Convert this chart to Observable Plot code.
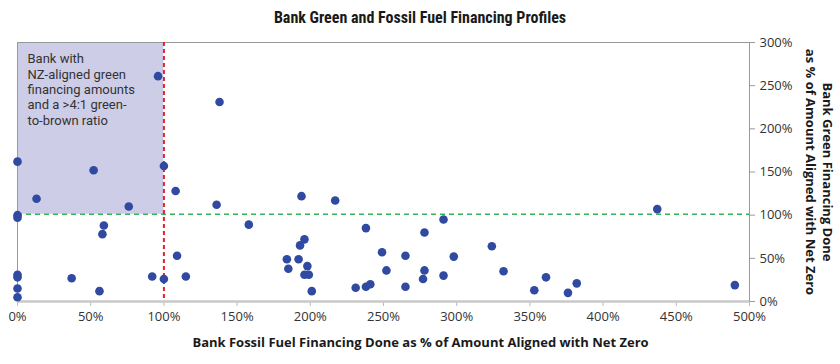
<!DOCTYPE html>
<html>
<head>
<meta charset="utf-8">
<script src="https://cdn.jsdelivr.net/npm/d3@7"></script>
<script src="https://cdn.jsdelivr.net/npm/@observablehq/plot@0.6"></script>
<style>
  body { margin: 0; background: #fff; }
  #title { height: 32px; line-height: 36px; text-align: center; font-family: "Liberation Sans Narrow", "Roboto Condensed", Roboto, sans-serif; font-weight: bold; font-size: 16px; color: #1a1a1a; }
  svg { display: block; }
</style>
</head>
<body>
<div id="title">Bank Green and Fossil Fuel Financing Profiles</div>
<div id="chart"></div>
<script>
// Fossil fuel financing as % of NZ-aligned amount (x), green financing as % of NZ-aligned amount (y)
const fossilPct = [96, 138, 0, 52, 100, 108, 13, 76, 136, 0, 0, 59, 58, 158, 109, 0, 0, 37, 92, 100, 115, 0, 0, 56,
  194, 217, 291, 238, 278, 196, 193, 324, 184, 192, 249, 265, 298, 185, 198, 196, 199, 252, 278, 332, 291, 277, 201, 231, 238, 241, 265, 353,
  437, 361, 376, 382, 490];
const greenPct = [261, 231, 162, 152, 157, 128, 119, 110, 112, 100, 97, 88, 78, 89, 53, 31, 28, 27, 29, 26, 29, 15, 5, 12,
  122, 117, 95, 85, 80, 72, 65, 64, 49, 49, 57, 53, 52, 38, 41, 31, 31, 36, 36, 35, 30, 26, 12, 16, 17, 20, 17, 13,
  107, 28, 10, 21, 19];
const fossilThreshold = 100;   // NZ-aligned fossil financing
const greenThreshold = 101;    // NZ-aligned green financing
const xTicks = [0, 50, 100, 150, 200, 250, 300, 350, 400, 450, 500];
const yTicks = [0, 50, 100, 150, 200, 250, 300];
const xDomain = [0, 500];
const yDomain = [0, 300];
const annotation = "Bank with\nNZ-aligned green\nfinancing amounts\nand a >4:1 green-\nto-brown ratio";
const xLabel = "Bank Fossil Fuel Financing Done as % of Amount Aligned with Net Zero";
const yLabel = "Bank Green Financing Done\nas % of Amount Aligned with Net Zero";

const points = fossilPct.map((x, i) => ({x, y: greenPct[i]}));
const font = "'Open Sans', Lato, sans-serif";

const chart = Plot.plot({
  width: 840,
  height: 332,
  marginTop: 10,
  marginBottom: 63,
  marginLeft: 17,
  marginRight: 91,
  style: {fontFamily: font, fontSize: "13px", color: "#333", background: "#fff"},
  x: {domain: xDomain, ticks: xTicks, tickFormat: d => d + "%", label: null},
  y: {domain: yDomain, ticks: yTicks, tickFormat: d => d + "%", label: null},
  marks: [
    Plot.rect([{x1: xDomain[0], x2: fossilThreshold, y1: greenThreshold, y2: yDomain[1]}],
      {x1: "x1", x2: "x2", y1: "y1", y2: "y2", fill: "#cdcde8"}),
    Plot.ruleY([yDomain[1]], {stroke: "#999", strokeWidth: 1}),
    Plot.ruleX([xDomain[0]], {stroke: "#999", strokeWidth: 1}),
    Plot.ruleX([xDomain[1]], {stroke: "#999", strokeWidth: 1}),
    Plot.axisX({ticks: xTicks, tickFormat: d => d + "%", tickSize: 5, tickPadding: 5, stroke: "#bbb", fontSize: 13, fill: "#333"}),
    Plot.ruleY([yDomain[0]], {stroke: "#c8c8c8", strokeWidth: 2.5}),
    Plot.axisY({anchor: "right", ticks: yTicks, tickFormat: d => d + "%", tickSize: 5, tickPadding: 5, stroke: "#999", fontSize: 13, fill: "#333"}),
    Plot.ruleY([greenThreshold], {stroke: "#34b45a", strokeWidth: 1.6, strokeDasharray: "5,4"}),
    Plot.ruleX([fossilThreshold], {stroke: "#e3202c", strokeWidth: 2, strokeDasharray: "4,3"}),
    Plot.text([annotation], {frameAnchor: "top-left", dx: 10, dy: 10, lineAnchor: "top", textAnchor: "start",
      lineHeight: 1.18, fontSize: 13, fontFamily: "Roboto, 'Liberation Sans', sans-serif", fill: "#333"}),
    Plot.dot(points, {x: "x", y: "y", r: 4.3, fill: "#2f4aa0", stroke: "none"}),
    Plot.text([xLabel], {frameAnchor: "bottom", dx: 37, dy: 41, lineAnchor: "middle", fontSize: 13, fontWeight: "bold", fill: "#1a1a1a"}),
    Plot.text([yLabel], {frameAnchor: "right", dx: 70, rotate: 90, lineAnchor: "middle", textAnchor: "middle",
      lineHeight: 1.3, fontSize: 13, fontWeight: "bold", fill: "#1a1a1a"})
  ]
});
document.getElementById("chart").appendChild(chart);
</script>
</body>
</html>
